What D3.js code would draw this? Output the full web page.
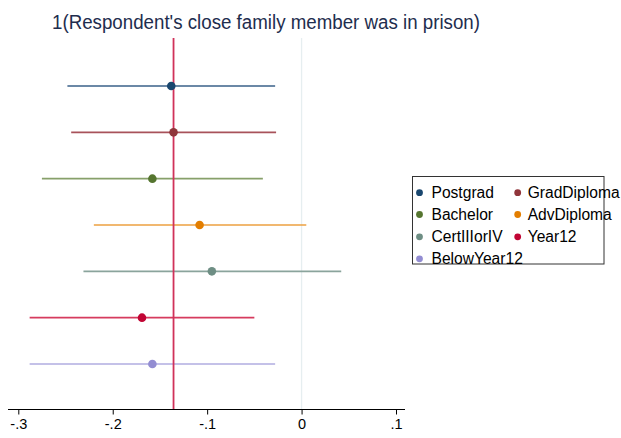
<!DOCTYPE html>
<html>
<head>
<meta charset="utf-8">
<script src="https://cdn.jsdelivr.net/npm/d3@7"></script>
<style>
  html, body { margin: 0; padding: 0; background: #fff; }
  svg { display: block; font-family: "Liberation Sans", Arial, Helvetica, sans-serif; }
</style>
</head>
<body>
<svg id="chart" width="621" height="438"></svg>
<script>
// Coefficient estimates with 95% confidence intervals, by education group
const categories = ["Postgrad", "GradDiploma", "Bachelor", "AdvDiploma", "CertIIIorIV", "Year12", "BelowYear12"];
const estimates  = [-0.138, -0.1356, -0.158, -0.108, -0.095, -0.169, -0.158];
const ciLower    = [-0.248, -0.244, -0.275, -0.220, -0.231, -0.288, -0.288];
const ciUpper    = [-0.028, -0.027, -0.041, 0.005, 0.042, -0.050, -0.028];
const colors     = ["#1a476f", "#90353b", "#55752f", "#e37e00", "#6e8e84", "#c10534", "#938dd2"];
const lineColors = ["#3a6189", "#a8525a", "#87a06a", "#eca040", "#8aa49c", "#d63b5e", "#b0ace0"];
const refValue   = -0.1356;
const xTicks     = [-0.3, -0.2, -0.1, 0, 0.1];
const xTickLabels = ["-.3", "-.2", "-.1", "0", ".1"];
const title = "1(Respondent's close family member was in prison)";

const svg = d3.select("#chart");

const x = d3.scaleLinear().domain([-0.3, 0.1]).range([18.3, 396]);
const y = d3.scalePoint().domain(categories).range([86, 364]);
const plotTop = 38, axisY = 409.5, axisLeft = 8, axisRight = 405;

// title
svg.append("text")
  .attr("x", 266).attr("y", 28.5)
  .attr("text-anchor", "middle")
  .attr("font-size", 19.5)
  .attr("textLength", 428)
  .attr("lengthAdjust", "spacingAndGlyphs")
  .attr("fill", "#1e2d4e")
  .text(title);

// zero reference line
svg.append("line")
  .attr("x1", x(0)).attr("x2", x(0))
  .attr("y1", plotTop).attr("y2", axisY)
  .attr("stroke", "#e6eef0").attr("stroke-width", 1.3);

// confidence intervals
svg.append("g").selectAll("line").data(categories).join("line")
  .attr("x1", (d, i) => x(ciLower[i]))
  .attr("x2", (d, i) => x(ciUpper[i]))
  .attr("y1", d => y(d)).attr("y2", d => y(d))
  .attr("stroke", (d, i) => lineColors[i])
  .attr("stroke-width", 1.7);

// vertical line at the reference estimate
svg.append("line")
  .attr("x1", x(refValue)).attr("x2", x(refValue))
  .attr("y1", plotTop).attr("y2", axisY)
  .attr("stroke", "#d0325a").attr("stroke-width", 1.8);

// point estimates
svg.append("g").selectAll("circle").data(categories).join("circle")
  .attr("cx", (d, i) => x(estimates[i]))
  .attr("cy", d => y(d))
  .attr("r", 4.3)
  .attr("fill", (d, i) => colors[i]);

// x axis
const axis = d3.axisBottom(x)
  .tickValues(xTicks)
  .tickFormat((d, i) => xTickLabels[i])
  .tickSize(5)
  .tickPadding(4);
const gx = svg.append("g").attr("transform", `translate(0,${axisY})`).call(axis);
gx.select(".domain").remove();
gx.append("line")
  .attr("x1", axisLeft).attr("x2", axisRight)
  .attr("stroke", "#000").attr("stroke-width", 1);
gx.selectAll(".tick line").attr("stroke", "#000");
gx.selectAll(".tick text")
  .attr("font-size", 14.5)
  .attr("fill", "#000")
  .attr("font-family", "Liberation Sans, Arial, sans-serif");

// legend
const legend = svg.append("g");
legend.append("rect")
  .attr("x", 412.5).attr("y", 176.5)
  .attr("width", 191.5).attr("height", 87.5)
  .attr("fill", "#fff").attr("stroke", "#333").attr("stroke-width", 1);
const colX = [419.5, 517.7];
const textGap = [12, 10];
const rowY = [192.7, 214.5, 236.8, 258.8];
categories.forEach((c, i) => {
  const col = i % 2, row = Math.floor(i / 2);
  const item = legend.append("g");
  item.append("circle")
    .attr("cx", colX[col]).attr("cy", rowY[row])
    .attr("r", 3.4).attr("fill", colors[i]);
  item.append("text")
    .attr("x", colX[col] + textGap[col]).attr("y", rowY[row] + 5.5)
    .attr("font-size", 15.6)
    .attr("fill", "#000")
    .text(c);
});
</script>
</body>
</html>
